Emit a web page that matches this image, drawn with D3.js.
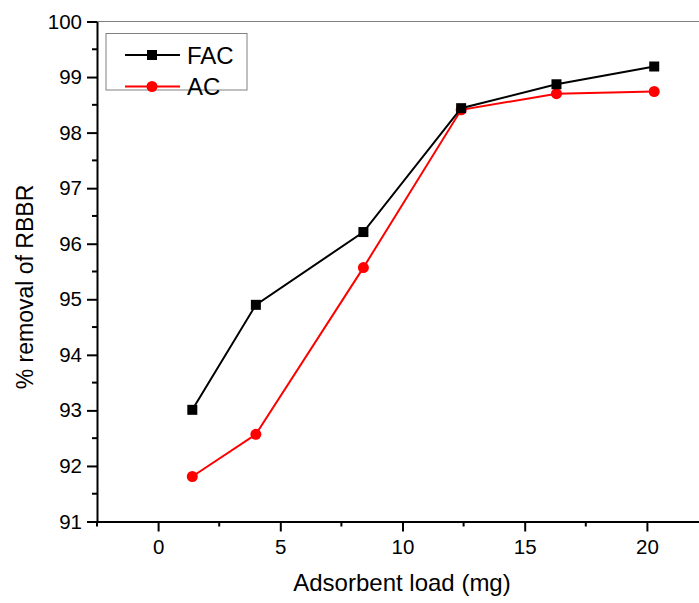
<!DOCTYPE html>
<html>
<head>
<meta charset="utf-8">
<script src="https://cdn.jsdelivr.net/npm/d3@7"></script>
<style>
  body { margin: 0; background: #fff; }
  svg { font-family: "Liberation Sans", Arial, sans-serif; }
</style>
</head>
<body>
<svg id="chart" width="699" height="603"></svg>
<script>
const loads = [1.4, 4, 8.4, 12.4, 16.3, 20.3]
const facValues = [93.01, 94.9, 96.21, 98.44, 98.87, 99.19]
const acValues = [91.81, 92.57, 95.57, 98.41, 98.7, 98.74]
const xTicks = [0, 5, 10, 15, 20]
const yTicks = [91, 92, 93, 94, 95, 96, 97, 98, 99, 100]
const seriesNames = ['FAC', 'AC']

const svg = d3.select('#chart')

const x = d3.scaleLinear().domain([-2.5, 22.5]).range([97, 708])
const y = d3.scaleLinear().domain([91, 100]).range([521.5, 21.5])

// top frame
svg.append('line')
  .attr('x1', 97).attr('x2', 699)
  .attr('y1', y(100)).attr('y2', y(100))
  .attr('stroke', '#808080').attr('stroke-width', 1)

// minor ticks
const xMinor = d3.range(-2.5, 22.6, 2.5).filter((v) => v % 5 !== 0)
svg.append('g')
  .selectAll('line')
  .data(xMinor)
  .enter()
  .append('line')
  .attr('x1', (d) => x(d)).attr('x2', (d) => x(d))
  .attr('y1', y(91)).attr('y2', y(91) + 5)
  .attr('stroke', '#000').attr('stroke-width', 2)

svg.append('g')
  .selectAll('line')
  .data(d3.range(91.5, 100, 1))
  .enter()
  .append('line')
  .attr('x1', x(-2.5) - 5).attr('x2', x(-2.5))
  .attr('y1', (d) => y(d)).attr('y2', (d) => y(d))
  .attr('stroke', '#000').attr('stroke-width', 2)

const xAxis = svg.append('g')
  .attr('transform', `translate(0,${y(91)})`)
  .call(d3.axisBottom(x).tickValues(xTicks).tickSize(10).tickSizeOuter(0).tickPadding(8))
xAxis.select('.domain').attr('stroke-width', 2)
xAxis.selectAll('.tick line').attr('stroke-width', 2)
xAxis.selectAll('text').attr('font-size', 20.5).attr('font-family', 'Liberation Sans, Arial, sans-serif').attr('fill', '#000')

const yAxis = svg.append('g')
  .attr('transform', `translate(${x(-2.5)},0)`)
  .call(d3.axisLeft(y).tickValues(yTicks).tickSize(10).tickSizeOuter(0).tickPadding(5))
yAxis.select('.domain').attr('stroke-width', 2)
yAxis.selectAll('.tick line').attr('stroke-width', 2)
yAxis.selectAll('text').attr('font-size', 20.5).attr('font-family', 'Liberation Sans, Arial, sans-serif').attr('fill', '#000')

// axis titles
svg.append('text')
  .attr('x', 402).attr('y', 591)
  .attr('text-anchor', 'middle')
  .attr('font-size', 24)
  .text('Adsorbent load (mg)')

svg.append('text')
  .attr('transform', 'translate(33,287) rotate(-90)')
  .attr('text-anchor', 'middle')
  .attr('font-size', 23)
  .text('% removal of RBBR')

const line = d3.line()
  .x((d, i) => x(loads[i]))
  .y((d) => y(d))

// AC series
svg.append('path')
  .datum(acValues)
  .attr('d', line)
  .attr('fill', 'none').attr('stroke', '#ff0000').attr('stroke-width', 2)
svg.append('g')
  .selectAll('circle')
  .data(acValues)
  .enter()
  .append('circle')
  .attr('cx', (d, i) => x(loads[i]))
  .attr('cy', (d) => y(d))
  .attr('r', 5.5)
  .attr('fill', '#ff0000')

// FAC series
svg.append('path')
  .datum(facValues)
  .attr('d', line)
  .attr('fill', 'none').attr('stroke', '#000').attr('stroke-width', 2)
svg.append('g')
  .selectAll('rect')
  .data(facValues)
  .enter()
  .append('rect')
  .attr('x', (d, i) => x(loads[i]) - 5)
  .attr('y', (d) => y(d) - 5)
  .attr('width', 10).attr('height', 10)
  .attr('fill', '#000')

// legend
const legend = svg.append('g')
legend.append('rect')
  .attr('x', 106).attr('y', 33.5)
  .attr('width', 141).attr('height', 56.5)
  .attr('fill', '#fff').attr('stroke', '#808080').attr('stroke-width', 1)

const legendRows = legend.selectAll('g.row')
  .data(seriesNames)
  .enter()
  .append('g')
  .attr('class', 'row')
  .attr('transform', (_, i) => `translate(0,${55 + i * 31.5})`)

legendRows.append('line')
  .attr('x1', 125).attr('x2', 180)
  .attr('stroke', (d) => d === 'FAC' ? '#000' : '#ff0000')
  .attr('stroke-width', 2)

legendRows.filter((d) => d === 'FAC').append('rect')
  .attr('x', 147).attr('y', -5).attr('width', 10).attr('height', 10).attr('fill', '#000')
legendRows.filter((d) => d === 'AC').append('circle')
  .attr('cx', 152).attr('r', 5.5).attr('fill', '#ff0000')

legendRows.append('text')
  .attr('x', 187).attr('y', 8.5)
  .attr('font-size', 24)
  .text((d) => d)
</script>
</body>
</html>
